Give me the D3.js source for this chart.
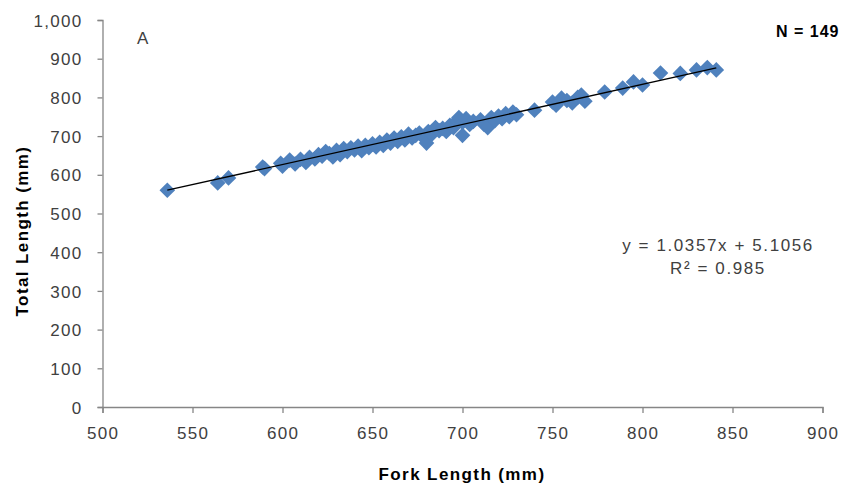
<!DOCTYPE html>
<html>
<head>
<meta charset="utf-8">
<script src="https://cdn.jsdelivr.net/npm/d3@7"></script>
<style>
  html, body { margin: 0; padding: 0; background: #fff; overflow: hidden; }
  svg { display: block; font-family: Arial, "Liberation Sans", sans-serif; }
</style>
</head>
<body>
<svg id="chart" width="843" height="491"></svg>
<script>
// Data
const forkLength = [536,564,570,589,590,599,600,604,607,610,613,615,618,620,622,624,626,628,630,632,634,636,638,640,642,644,646,648,650,652,654,656,658,660,662,664,666,668,670,672,674,676,678,680,681,683,685,687,689,691,693,695,697,698,700,700,702,704,706,710,712,714,716,718,720,722,724,726,728,730,740,750,752,755,758,761,764,766,768,779,789,795,800,810,821,830,836,841];
const totalLength = [560,579,592,620,616,630,622,638,628,640,632,645,641,652,648,660,655,646,663,652,668,660,670,664,674,662,676,670,680,672,684,676,690,682,695,686,698,690,705,695,702,708,698,682,712,705,722,714,720,712,728,722,740,748,702,735,745,730,738,742,730,722,748,740,752,745,758,750,762,755,767,788,780,798,792,786,800,806,790,814,824,840,832,863,862,871,877,871];
const xTicks = [500,550,600,650,700,750,800,850,900];
const yTicks = [0,100,200,300,400,500,600,700,800,900,1000];
const slope = 1.0357, intercept = 5.1056;
const eqLabel = "y = 1.0357x  +  5.1056";
const r2Label = "R\u00B2 = 0.985";
const nLabel = "N = 149";
const panelLabel = "A";
const xTitle = "Fork Length (mm)";
const yTitle = "Total Length (mm)";

const svg = d3.select("#chart");
const x = d3.scaleLinear().domain([500, 900]).range([102.5, 822.5]);
const y = d3.scaleLinear().domain([0, 1000]).range([407, 20]);
const axisColor = "#868686";
const textColor = "#404040";

// Axes
const xAxis = svg.append("g").attr("transform", `translate(0,${y(0)})`)
  .call(d3.axisBottom(x).tickValues(xTicks).tickSize(6).tickPadding(14).tickFormat(d3.format("d")));
const yAxis = svg.append("g").attr("transform", `translate(${x(500)},0)`)
  .call(d3.axisLeft(y).tickValues(yTicks).tickSize(5).tickPadding(15).tickFormat(d3.format(",")));
[xAxis, yAxis].forEach(g => {
  g.selectAll("path.domain").attr("stroke", axisColor).attr("stroke-width", 1.3);
  g.selectAll(".tick line").attr("stroke", axisColor).attr("stroke-width", 1.3);
  g.selectAll(".tick text").attr("fill", textColor).attr("font-size", 17)
    .attr("letter-spacing", "1.3px").attr("font-family", "Arial, 'Liberation Sans', sans-serif");
});
yAxis.selectAll(".tick text").attr("dy", "0.36em");

// Points
const pts = forkLength.map((f, i) => ({f, t: totalLength[i]}));
const diamond = d3.symbol().type(d3.symbolSquare).size(122);
svg.append("g").selectAll("path").data(pts).join("path")
  .attr("d", diamond)
  .attr("transform", d => `translate(${x(d.f)},${y(d.t)}) rotate(45)`)
  .attr("fill", "#4F81BD");

// Trend line
const xr = d3.extent(forkLength);
svg.append("line")
  .attr("x1", x(xr[0])).attr("y1", y(slope * xr[0] + intercept))
  .attr("x2", x(xr[1])).attr("y2", y(slope * xr[1] + intercept))
  .attr("stroke", "#000").attr("stroke-width", 1.4);

// Texts
svg.append("text").attr("x", 137).attr("y", 44).attr("font-size", 17)
  .attr("fill", textColor).text(panelLabel);
svg.append("text").attr("x", 776).attr("y", 37).attr("font-size", 16)
  .attr("font-weight", "bold").attr("letter-spacing", "1px").attr("fill", "#000").text(nLabel);
svg.append("text").attr("x", 718).attr("y", 251).attr("text-anchor", "middle")
  .attr("font-size", 17).attr("letter-spacing", "1.6px").attr("fill", textColor).text(eqLabel);
svg.append("text").attr("x", 718).attr("y", 274).attr("text-anchor", "middle")
  .attr("font-size", 17).attr("letter-spacing", "1.6px").attr("fill", textColor).text(r2Label);
svg.append("text").attr("x", 462).attr("y", 480).attr("text-anchor", "middle")
  .attr("font-size", 17).attr("font-weight", "bold").attr("letter-spacing", "1.4px")
  .attr("fill", "#000").text(xTitle);
svg.append("text").attr("transform", "translate(28,231) rotate(-90)").attr("text-anchor", "middle")
  .attr("font-size", 17).attr("font-weight", "bold").attr("letter-spacing", "1.4px")
  .attr("fill", "#000").text(yTitle);
</script>
</body>
</html>
